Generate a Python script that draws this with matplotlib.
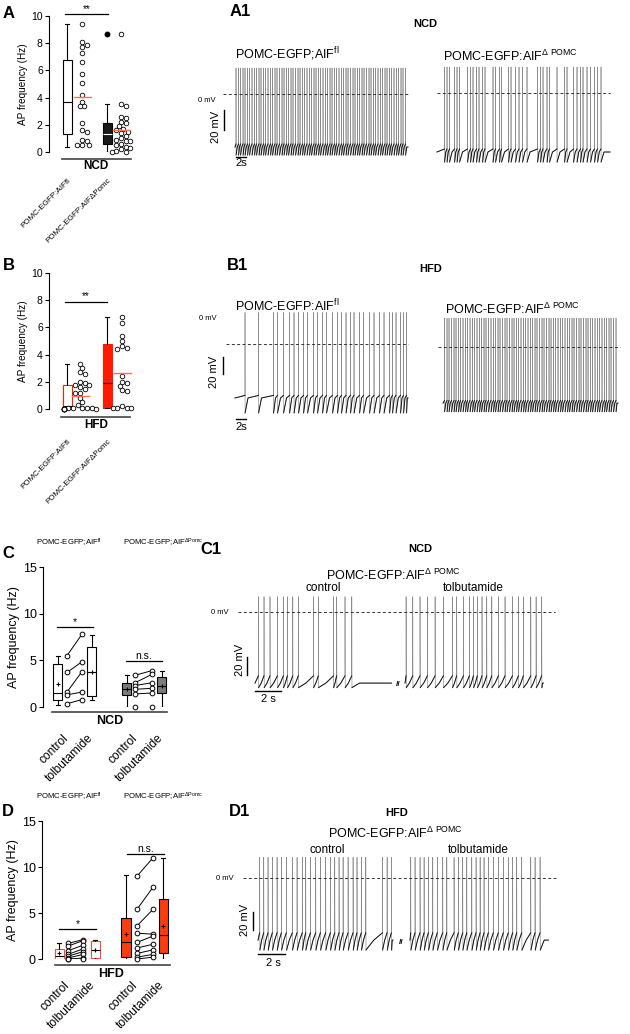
import numpy as np
import matplotlib.pyplot as plt

plt.rcParams['font.family'] = ['Liberation Sans', 'DejaVu Sans']
plt.rcParams['mathtext.fontset'] = 'custom'
plt.rcParams['mathtext.rm'] = 'Liberation Sans'
plt.rcParams['mathtext.it'] = 'Liberation Sans:italic'
plt.rcParams['mathtext.bf'] = 'Liberation Sans:bold'
plt.rcParams['axes.linewidth'] = 0.8

# ---- data: AP frequency (Hz) per cell ----
ncd_fl = [9.4, 8.1, 7.9, 7.7, 7.3, 6.6, 5.7, 5.1, 4.2, 3.7, 3.4, 3.4, 2.1, 1.6, 1.5, 0.9, 0.8, 0.5, 0.5, 0.5]
ncd_dpomc = [8.7, 3.5, 3.4, 2.6, 2.5, 2.2, 2.1, 1.9, 1.7, 1.6, 1.5, 1.4, 1.2, 1.0, 0.9, 0.8, 0.8, 0.6,
             0.5, 0.4, 0.3, 0.2, 0.1, 0.0, 0.0]
hfd_fl = [3.3, 3.0, 2.7, 2.6, 2.0, 1.9, 1.8, 1.8, 1.6, 1.5, 1.2, 1.2, 0.8, 0.5, 0.3, 0.1, 0.05, 0.05,
          0.05, 0.05, 0.0, 0.0, 0.0, 0.0, 0.0, 0.0, 0.0, 0.0]
hfd_dpomc = [6.8, 6.3, 5.4, 5.0, 4.6, 4.5, 4.4, 2.4, 2.0, 1.9, 1.7, 1.4, 1.3, 0.2, 0.1, 0.05, 0.05, 0.05]

# box summaries: whisker low, q1, median, q3, whisker high
ncd_fl_box = [0.4, 1.35, 3.65, 6.75, 9.4]
ncd_dpomc_box = [0.0, 0.6, 1.3, 2.15, 3.5]
ncd_dpomc_outlier = [8.7]
hfd_fl_box = [0.0, 0.05, 0.25, 1.75, 3.3]
hfd_dpomc_box = [0.05, 0.1, 1.9, 4.8, 6.8]

# tolbutamide experiments (paired cells)
c_fl_ctrl = [5.5, 3.7, 1.6, 1.3, 0.35]
c_fl_tolb = [7.8, 4.85, 3.8, 1.6, 0.8]
c_dp_ctrl = [3.4, 2.6, 2.3, 1.9, 1.4, 0.0]
c_dp_tolb = [3.9, 3.5, 2.6, 2.0, 1.5, 0.0]
c_boxes = [[0.25, 0.7, 1.55, 4.6, 5.5], [0.8, 1.2, 3.8, 6.45, 7.7],
           [0.0, 1.3, 1.9, 2.6, 3.45], [0.0, 1.45, 2.3, 3.2, 3.9]]

d_fl_ctrl = [1.7, 1.4, 0.9, 0.5, 0.3, 0.1, 0.0, 0.0]
d_fl_tolb = [2.1, 2.0, 1.5, 1.1, 0.8, 0.5, 0.1, 0.0]
d_dp_ctrl = [9.0, 5.4, 3.6, 2.8, 1.8, 1.2, 0.6, 0.2, 0.0]
d_dp_tolb = [11.0, 7.8, 5.4, 2.7, 2.5, 1.6, 1.0, 0.5, 0.2]
d_boxes = [[0.0, 0.05, 0.35, 1.1, 1.7], [0.0, 0.1, 1.0, 2.0, 2.1],
           [0.0, 0.2, 1.8, 4.5, 9.1], [0.0, 0.7, 2.6, 6.5, 11.0]]

cond_labels = ['control', 'tolbutamide', 'control', 'tolbutamide']
geno_ticks = ['POMC-EGFP:AIFfl', 'POMC-EGFP:AIFΔPomc']

# ---- spike times (s) of the example recordings ----
a1_fl_spikes = [0.2, 0.7, 1.1, 1.6, 2.0, 2.5, 2.9, 3.4, 3.9, 4.3, 4.8, 5.2, 5.7, 6.1, 6.6, 7.1, 7.5, 8.0,
                8.4, 8.9, 9.4, 9.8, 10.3, 10.7, 11.2, 11.6, 12.1, 12.6, 13.0, 13.5, 13.9, 14.4, 14.9, 15.3,
                15.8, 16.2, 16.7, 17.1, 17.6, 18.1, 18.5, 19.0, 19.4, 19.9, 20.3, 20.8, 21.3, 21.7, 22.2,
                22.6, 23.1, 23.6, 24.0, 24.5, 24.9, 25.4, 25.8, 26.3, 26.8, 27.2, 27.7, 28.1, 28.6, 29.1,
                29.5, 30.0, 30.4, 30.9, 31.3, 31.8, 32.3, 32.7, 33.2, 33.6, 34.1]
a1_dp_spikes = [1.5, 2.0, 2.5, 3.5, 4.0, 4.5, 6.1, 6.7, 7.2, 7.9, 8.4, 9.1, 9.6, 11.2, 11.7, 12.5, 12.9,
                14.3, 14.8, 15.7, 16.4, 17.1, 18.0, 20.1, 20.7, 21.2, 22.0, 22.5, 24.0, 25.5, 26.0, 27.3,
                28.0, 28.7, 29.2, 30.0, 30.7, 31.5, 32.1, 32.8]
b1_fl_spikes = [2.0, 4.7, 7.7, 8.5, 9.7, 10.9, 11.8, 12.7, 13.7, 14.5, 15.7, 16.5, 17.5, 18.3, 19.5, 20.5,
                21.3, 22.2, 23.1, 23.8, 24.9, 25.7, 26.9, 27.8, 28.9, 29.8, 30.9, 31.5, 32.2, 33.1, 33.7, 34.3]
b1_dp_spikes = [0.3, 0.8, 1.2, 1.7, 2.2, 2.6, 3.1, 3.5, 4.0, 4.5, 4.9, 5.4, 5.9, 6.3, 6.8, 7.3, 7.7, 8.2,
                8.6, 9.1, 9.6, 10.1, 10.5, 11.0, 11.4, 11.9, 12.4, 12.8, 13.3, 13.8, 14.2, 14.7, 15.1, 15.6,
                16.1, 16.5, 17.0, 17.5, 17.9, 18.4, 18.8, 19.3, 19.8, 20.2, 20.7, 21.2, 21.6, 22.1, 22.5,
                23.0, 23.5, 23.9, 24.4, 24.9, 25.3, 25.8, 26.2, 26.7, 27.2, 27.6, 28.1, 28.6, 29.0, 29.5,
                29.9, 30.4, 30.9, 31.3, 31.8, 32.3, 32.7, 33.2, 33.6, 34.1, 34.6]
c1_ctrl_spikes = [0.26, 0.69, 1.15, 1.72, 2.18, 2.49, 2.9, 3.33, 4.49, 4.87, 6.03, 6.28, 6.92, 7.44]
c1_tolb_spikes = [0.08, 0.59, 1.15, 1.72, 2.31, 2.95, 3.64, 3.97, 4.49, 4.95, 5.26, 5.56, 5.92, 6.28,
                  6.67, 7.18, 7.69, 8.26, 8.72, 9.1, 9.67, 10.08, 10.51]
d1_ctrl_spikes = [0.12, 0.42, 0.74, 1.06, 1.41, 1.73, 2.1, 2.54, 2.89, 3.28, 3.53, 3.88, 4.27, 4.62, 5.01,
                  5.36, 5.68, 6.0, 6.3, 6.67, 7.04, 7.33, 7.65, 7.98, 9.21, 9.56, 9.88]
d1_tolb_spikes = [0.05, 0.37, 0.74, 1.04, 1.36, 1.68, 2.02, 2.42, 2.72, 3.26, 3.58, 3.9, 4.2, 4.57, 4.89,
                  5.19, 5.48, 5.8, 6.17, 6.54, 6.91, 7.28, 7.6, 7.9, 8.27, 8.94, 9.26, 9.63]

W, H = 630, 1034
RED = '#ff1a00'
ORANGE = '#ff3b10'
MEANC = '#ff7355'
GRAY = '#7c7c7c'

fig = plt.figure(figsize=(6.3, 10.34), dpi=100)
ov = fig.add_axes([0, 0, 1, 1])
ov.set_xlim(0, W)
ov.set_ylim(H, 0)
ov.axis('off')


def px_axes(x0, y0, x1, y1):
    return fig.add_axes([x0 / W, 1 - y1 / H, (x1 - x0) / W, (y1 - y0) / H])


def txt(x, y, s, fs, **kw):
    kw.setdefault('ha', 'center')
    kw.setdefault('va', 'center')
    ov.text(x, y, s, fontsize=fs, **kw)


def freq_axes(x0, y_top, x1, y_bot, ymax, step, tick_fs, lab_fs):
    ax = px_axes(x0, y_top, x1, y_bot)
    ax.set_xlim(0, x1 - x0)
    ax.set_ylim(0, ymax)
    for s in ['top', 'right', 'bottom']:
        ax.spines[s].set_visible(False)
    ax.set_yticks(np.arange(0, ymax + 1, step))
    ax.tick_params(axis='y', length=3, width=0.8, labelsize=tick_fs, pad=1.5)
    ax.set_ylabel('AP frequency (Hz)', fontsize=lab_fs, labelpad=2)
    ax.patch.set_alpha(0)
    return ax


def draw_box(ax, st, pos, width, face, edge, medc, lw=0.8):
    stats = [dict(whislo=st[0], q1=st[1], med=st[2], q3=st[3], whishi=st[4], fliers=[])]
    ax.bxp(stats, positions=[pos], widths=width, capwidths=width * 0.55, patch_artist=True,
           showfliers=False, manage_ticks=False,
           boxprops=dict(facecolor=face, edgecolor=edge, linewidth=lw),
           medianprops=dict(color=medc, linewidth=lw),
           whiskerprops=dict(color='black', linewidth=lw),
           capprops=dict(color='black', linewidth=lw))


def swarm(vals, center, px_unit, diam=4.2):
    placed, xs = [], []
    offs = [0.0]
    for k in range(1, 8):
        offs += [k * diam * 0.55, -k * diam * 0.55]
    for v in vals:
        y = v * px_unit
        for o in offs:
            if all((o - px) ** 2 + (y - py) ** 2 >= diam ** 2 for px, py in placed):
                break
        placed.append((o, y))
        xs.append(center + o)
    return xs


def scatter_group(ax, vals, center, px_unit):
    xs = swarm(vals, center, px_unit)
    ax.plot(xs, vals, 'o', mfc='white', mec='black', ms=3.3, mew=0.6, clip_on=False, zorder=4)
    m = np.mean(vals)
    ax.plot([center - 8.5, center + 8.5], [m, m], color=MEANC, lw=1.0, zorder=5)


def sig(ax, x0, x1, y, s, fs=7):
    ax.plot([x0, x1], [y, y], color='black', lw=0.9, clip_on=False)
    ax.text((x0 + x1) / 2, y, s, ha='center', va='bottom', fontsize=fs)


def paired(ax, ctrl, tolb, xc, xt):
    for a, b in zip(ctrl, tolb):
        ax.plot([xc, xt], [a, b], color='black', lw=0.7, zorder=3)
    ax.plot([xc] * len(ctrl), ctrl, 'o', mfc='white', mec='black', ms=3.4, mew=0.7, zorder=4, clip_on=False)
    ax.plot([xt] * len(tolb), tolb, 'o', mfc='white', mec='black', ms=3.4, mew=0.7, zorder=4, clip_on=False)


# ---------------- A ----------------
axA = freq_axes(49, 16, 135, 152, 10, 2, 7.5, 7.2)
draw_box(axA, ncd_fl_box, 18, 9, 'white', 'black', 'black')
draw_box(axA, ncd_dpomc_box, 58, 9, '#1a1a1a', 'black', 'white')
axA.plot([58] * len(ncd_dpomc_outlier), ncd_dpomc_outlier, 'o', color='black', ms=3.2, zorder=4)
scatter_group(axA, ncd_fl, 33, 13.6)
scatter_group(axA, ncd_dpomc, 72, 13.6)
sig(axA, 16, 59, 10.15, '**')
axA.set_xticks([18, 58])
axA.set_xticklabels(geno_ticks, rotation=45, ha='right', rotation_mode='anchor', fontsize=5.8)
axA.tick_params(axis='x', length=0, pad=18)
ov.plot([62, 131], [159, 159], color='#444444', lw=1.2)
txt(96, 166, 'NCD', 8.5, fontweight='bold')
txt(9, 14, 'A', 12, fontweight='bold')

# ---------------- B ----------------
axB = freq_axes(49, 273, 135, 409, 10, 2, 7.5, 7.2)
draw_box(axB, hfd_fl_box, 18, 9, 'white', RED, 'black')
draw_box(axB, hfd_dpomc_box, 58, 9, RED, RED, 'black')
scatter_group(axB, hfd_fl, 31, 13.6)
scatter_group(axB, hfd_dpomc, 73, 13.6)
sig(axB, 16, 58, 7.9, '**')
axB.set_xticks([18, 58])
axB.set_xticklabels(geno_ticks, rotation=45, ha='right', rotation_mode='anchor', fontsize=5.8)
axB.tick_params(axis='x', length=0, pad=21)
ov.plot([61, 130], [417, 417], color='#444444', lw=1.2)
txt(96, 425, 'HFD', 8.5, fontweight='bold')
txt(9, 266, 'B', 12, fontweight='bold')


# ---------------- C / D ----------------
def tolb_panel(ax, boxes, fl_c, fl_t, dp_c, dp_t, pos, fill, edge1, sigs):
    b1, c1, t1, b2, b3, c2, t2, b4 = pos
    draw_box(ax, boxes[0], b1, 9, 'white', edge1, 'black')
    draw_box(ax, boxes[1], b2, 9, 'white', edge1, 'black')
    draw_box(ax, boxes[2], b3, 9, fill, 'black', 'black')
    draw_box(ax, boxes[3], b4, 9, fill, 'black', 'black')
    for p, vals in zip([b1, b2, b3, b4], [fl_c, fl_t, dp_c, dp_t]):
        ax.plot(p, np.mean(vals), marker='+', color='black', ms=3, mew=0.8, zorder=5)
    paired(ax, fl_c, fl_t, c1, t1)
    paired(ax, dp_c, dp_t, c2, t2)
    for x0, x1, y, s in sigs:
        sig(ax, x0, x1, y, s, 7.5)
    ax.set_xticks([(b1 + c1) / 2, (t1 + b2) / 2, (b3 + c2) / 2, (t2 + b4) / 2])
    ax.set_xticklabels(cond_labels, rotation=45, ha='right', rotation_mode='anchor', fontsize=8.6)


axC = freq_axes(43, 567, 172, 707, 15, 5, 9, 9)
tolb_panel(axC, c_boxes, c_fl_ctrl, c_fl_tolb, c_dp_ctrl, c_dp_tolb,
           [15, 24, 39, 49, 84, 92, 109, 119], GRAY, 'black',
           [(14, 50, 8.6, '*'), (83, 119, 4.9, 'n.s.')])
axC.tick_params(axis='x', length=0, pad=18)
ov.plot([52, 167], [712, 712], color='#444444', lw=1.2)
txt(110, 721, 'NCD', 9, fontweight='bold')
txt(8, 553, 'C', 12, fontweight='bold')
txt(69, 543, r'POMC-EGFP;AIF$^{\mathrm{fl}}$', 5.6)
txt(163, 543, r'POMC-EGFP;AIF$^{\mathrm{\Delta Pomc}}$', 5.6)

axD = freq_axes(42, 821, 172, 959, 15, 5, 9, 9)
tolb_panel(axD, d_boxes, d_fl_ctrl, d_fl_tolb, d_dp_ctrl, d_dp_tolb,
           [17, 26, 41, 53, 84, 95, 111, 121], ORANGE, '#ff4a3a',
           [(17, 54, 3.25, '*'), (85, 122, 11.4, 'n.s.')])
axD.tick_params(axis='x', length=0, pad=14.5)
ov.plot([55, 170], [965, 965], color='#444444', lw=1.2)
txt(111, 974, 'HFD', 9, fontweight='bold')
txt(8, 812, 'D', 12, fontweight='bold')
txt(69, 797, r'POMC-EGFP;AIF$^{\mathrm{fl}}$', 5.6)
txt(163, 797, r'POMC-EGFP;AIF$^{\mathrm{\Delta Pomc}}$', 5.6)


# ---------------- traces ----------------
def trace_axes(x0, zero_y, px_s, px_mv, t_lo, t_hi, v_lo=-100, v_hi=45):
    ax = px_axes(x0 + t_lo * px_s, zero_y - v_hi * px_mv, x0 + t_hi * px_s, zero_y - v_lo * px_mv)
    ax.set_xlim(t_lo, t_hi)
    ax.set_ylim(v_lo, v_hi)
    ax.axis('off')
    return ax


def draw_trace(ax, spikes, t_len, base, peak, trough, ramp, t0=0.0):
    t, v = [t0], [base]
    nxt = list(spikes[1:]) + [t_len]
    for s, n in zip(spikes, nxt):
        rec = min(0.5 * (n - s), 0.6)
        t += [t0 + s - 0.002, t0 + s + 0.004, t0 + s + 0.02, t0 + s + rec]
        v += [base + ramp, peak, trough, base]
    t.append(t0 + t_len)
    v.append(base)
    t = np.array(t)
    v = np.array(v)
    # spikes thin and grey, sub-threshold part darker
    ax.plot(t, v, color='#8c8c8c', lw=0.45, clip_on=False)
    vb = np.where(v > base + ramp + 1, np.nan, v)
    ax.plot(t, vb, color='#151515', lw=0.7, clip_on=False)


def zero_line(ax, t0, t1):
    ax.plot([t0, t1], [0, 0], color='#333333', lw=0.7, ls=(0, (3, 2.5)), clip_on=False)


def mv_bar(ax, t, v0):
    ax.plot([t, t], [v0, v0 - 20], color='black', lw=1.0, clip_on=False)


def s_bar(ax, v, t0=0.0):
    ax.plot([t0, t0 + 2], [v, v], color='black', lw=1.0, clip_on=False)


FL_LAB = r'POMC-EGFP%sAIF$^{\mathrm{fl}}$'
DP_LAB = r'POMC-EGFP:AIF$^{\mathrm{\Delta\ POMC}}$'

# A1
ax = trace_axes(235, 94, 5, 1.0, -5, 35)
draw_trace(ax, a1_fl_spikes, 34.6, -53, 26, -61, 3)
zero_line(ax, -2.4, 34.6)
mv_bar(ax, -2.2, -16)
s_bar(ax, -63, 0.2)
ax = trace_axes(437, 93, 5, 1.0, -1, 35)
draw_trace(ax, a1_dp_spikes, 34.6, -59, 26, -69, 3)
zero_line(ax, 0, 34.6)
txt(240, 11, 'A1', 12, fontweight='bold')
txt(425, 24, 'NCD', 8, fontweight='bold')
txt(235, 54, FL_LAB % ';', 9, ha='left')
txt(443, 56, DP_LAB, 9, ha='left')
txt(207, 100, '0 mV', 5.5)
txt(216, 127, '20 mV', 8, rotation=90)
txt(241, 163, '2s', 8)

# B1
ax = trace_axes(235, 344, 5, 0.85, -5, 35)
draw_trace(ax, b1_fl_spikes, 34.6, -63.5, 37, -81, 3)
zero_line(ax, -1.8, 34.6)
mv_bar(ax, -2.4, -15)
s_bar(ax, -88, 0.2)
ax = trace_axes(443, 347, 5, 0.85, -2, 36)
draw_trace(ax, b1_dp_spikes, 35, -66, 34, -76, 3)
zero_line(ax, -1, 35.4)
txt(238, 265, 'B1', 12, fontweight='bold')
txt(431, 269, 'HFD', 8, fontweight='bold')
txt(235, 306, FL_LAB % ':', 9, ha='left')
txt(445, 309, DP_LAB, 9, ha='left')
txt(208, 318, '0 mV', 5.5)
txt(214, 372, '20 mV', 8, rotation=90)
txt(241, 427, '2s', 8)

# C1
ax = trace_axes(255, 612, 13, 0.9, -2, 24)
draw_trace(ax, c1_ctrl_spikes, 10.5, -79, 17, -84, 8)
draw_trace(ax, c1_tolb_spikes, 10.64, -79, 17, -84, 8, t0=11.54)
zero_line(ax, -1.3, 23.1)
mv_bar(ax, -0.6, -50)
s_bar(ax, -88)
ax.text(11.0, -80, '//', ha='center', va='center', fontsize=6, fontweight='bold')
txt(211, 549, 'C1', 12, fontweight='bold')
txt(420, 549, 'NCD', 8, fontweight='bold')
txt(393, 575, DP_LAB, 9)
txt(323, 588, 'control', 8.5)
txt(473, 588, 'tolbutamide', 8.5)
txt(220, 612, '0 mV', 5.5)
txt(240, 660, '20 mV', 8, rotation=90)
txt(268, 699, '2 s', 8)

# D1
ax = trace_axes(258, 878, 13.5, 0.9, -2, 24)
draw_trace(ax, d1_ctrl_spikes, 10.0, -69, 23, -80, 8)
draw_trace(ax, d1_tolb_spikes, 10.25, -69, 23, -80, 8, t0=11.26)
zero_line(ax, -1.1, 22.1)
mv_bar(ax, -0.37, -38)
s_bar(ax, -84.4)
ax.text(10.6, -72, '//', ha='center', va='center', fontsize=6, fontweight='bold')
txt(240, 811, 'D1', 12, fontweight='bold')
txt(397, 813, 'HFD', 8, fontweight='bold')
txt(395, 833, DP_LAB, 9)
txt(327, 850, 'control', 8.5)
txt(478, 850, 'tolbutamide', 8.5)
txt(225, 878, '0 mV', 5.5)
txt(245, 920, '20 mV', 8, rotation=90)
txt(273, 963, '2 s', 8)

fig.savefig('out.png', dpi=100)
